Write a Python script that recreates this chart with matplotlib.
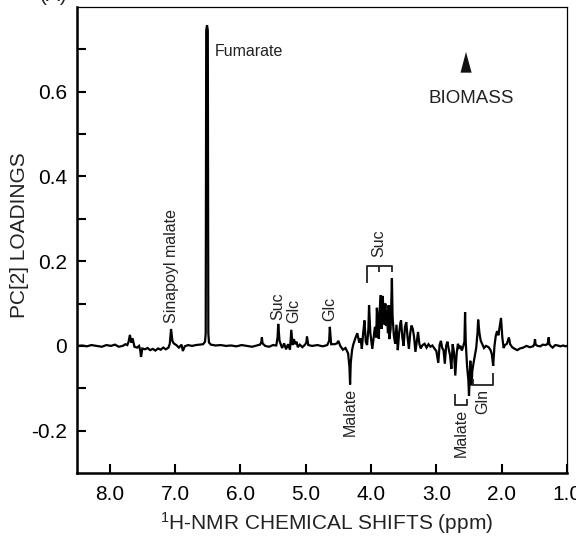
import matplotlib
matplotlib.use("Agg")
import matplotlib.pyplot as plt
from matplotlib.patches import Polygon

plt.rcParams['font.family'] = ['Liberation Sans', 'DejaVu Sans']
plt.rcParams['mathtext.default'] = 'regular'

# ---- data: spectrum trace (ppm, PC[2] loading) ----
ppm = [8.50, 8.42, 8.35, 8.28, 8.20, 8.12, 8.05, 7.98, 7.92, 7.86, 7.80, 7.76, 7.73,
       7.71, 7.69, 7.67, 7.65, 7.62, 7.58, 7.55, 7.53, 7.52, 7.50, 7.46, 7.42, 7.38,
       7.34, 7.30, 7.26, 7.22, 7.18, 7.14, 7.10, 7.08, 7.06, 7.04, 7.02, 6.98, 6.94,
       6.90, 6.88, 6.85, 6.80, 6.74, 6.68, 6.62, 6.57, 6.54, 6.53, 6.522, 6.51, 6.498,
       6.49, 6.48, 6.45, 6.38, 6.30, 6.22, 6.14, 6.06, 5.98, 5.90, 5.82, 5.75, 5.70,
       5.68, 5.67, 5.66, 5.62, 5.56, 5.50, 5.45, 5.43, 5.42, 5.40, 5.38, 5.36, 5.33,
       5.30, 5.27, 5.24, 5.22, 5.20, 5.18, 5.16, 5.14, 5.12, 5.09, 5.05, 5.01, 4.99,
       4.98, 4.96, 4.90, 4.82, 4.74, 4.67, 4.64, 4.63, 4.61, 4.56, 4.52, 4.50, 4.47,
       4.43, 4.39, 4.35, 4.33, 4.32, 4.31, 4.29, 4.27, 4.24, 4.21, 4.18, 4.16, 4.14,
       4.12, 4.10, 4.08, 4.06, 4.04, 4.03, 4.01, 3.98, 3.96, 3.94, 3.92, 3.91, 3.89,
       3.88, 3.87, 3.85, 3.84, 3.83, 3.82, 3.80, 3.78, 3.77, 3.76, 3.74, 3.73, 3.72,
       3.70, 3.68, 3.67, 3.65, 3.63, 3.61, 3.59, 3.57, 3.55, 3.54, 3.52, 3.50, 3.48,
       3.46, 3.44, 3.42, 3.40, 3.38, 3.36, 3.34, 3.32, 3.30, 3.28, 3.26, 3.24, 3.21,
       3.18, 3.15, 3.12, 3.09, 3.06, 3.03, 3.00, 2.97, 2.95, 2.93, 2.91, 2.89, 2.87,
       2.85, 2.83, 2.81, 2.79, 2.77, 2.75, 2.73, 2.71, 2.69, 2.67, 2.65, 2.63, 2.61,
       2.59, 2.57, 2.56, 2.55, 2.53, 2.51, 2.50, 2.48, 2.47, 2.46, 2.45, 2.43, 2.41,
       2.39, 2.37, 2.36, 2.34, 2.32, 2.30, 2.27, 2.24, 2.20, 2.17, 2.15, 2.13, 2.11,
       2.09, 2.07, 2.05, 2.03, 2.01, 1.99, 1.97, 1.95, 1.92, 1.89, 1.87, 1.84, 1.80,
       1.76, 1.72, 1.67, 1.62, 1.57, 1.52, 1.50, 1.49, 1.48, 1.45, 1.41, 1.37, 1.33,
       1.30, 1.29, 1.28, 1.27, 1.25, 1.22, 1.18, 1.14, 1.10, 1.06, 1.02, 1.00]
loading = [0.000, 0.001, -0.001, 0.002, 0.000, -0.002, 0.002, 0.000, 0.003, -0.002, 0.000, 0.004, 0.002,
           0.010, 0.026, 0.008, 0.018, -0.002, -0.004, 0.000, -0.012, -0.026, -0.006, -0.008, -0.005, -0.010,
           -0.007, -0.011, -0.006, -0.009, -0.004, -0.008, -0.004, 0.005, 0.040, 0.012, 0.006, 0.002, -0.004,
           0.003, -0.012, -0.001, 0.002, 0.000, 0.002, 0.003, 0.004, 0.010, 0.030, 0.745, 0.757, 0.745,
           0.030, 0.008, 0.003, 0.001, 0.002, 0.000, 0.001, -0.001, 0.002, 0.000, -0.002, 0.001, 0.003,
           0.008, 0.020, 0.006, 0.000, -0.002, 0.002, 0.001, 0.020, 0.052, 0.012, 0.003, -0.005, 0.006,
           -0.008, 0.004, -0.009, 0.038, 0.002, 0.016, 0.004, 0.010, -0.003, 0.003, -0.003, 0.003, 0.008,
           0.022, 0.002, 0.000, 0.002, -0.001, 0.002, 0.012, 0.045, 0.004, 0.004, 0.006, 0.012, 0.000,
           -0.009, -0.005, -0.018, -0.050, -0.091, -0.040, -0.010, 0.004, 0.018, 0.030, 0.008, 0.018, -0.007,
           0.030, 0.060, 0.010, 0.002, 0.040, 0.096, 0.030, -0.007, 0.020, 0.045, 0.020, 0.090, 0.030,
           0.017, 0.080, 0.120, 0.040, 0.070, 0.118, 0.050, 0.100, 0.047, 0.083, 0.030, 0.096, 0.016,
           0.040, 0.160, 0.070, 0.024, 0.005, 0.050, -0.010, 0.030, 0.055, 0.060, 0.020, 0.000, 0.045,
           0.056, 0.020, -0.007, 0.030, 0.048, 0.040, 0.020, -0.014, 0.010, 0.033, 0.005, -0.006, 0.002,
           0.005, -0.004, 0.004, -0.002, 0.001, -0.006, -0.012, -0.040, 0.002, 0.012, -0.005, -0.010, -0.042,
           0.000, 0.010, -0.008, -0.022, -0.054, 0.004, -0.015, -0.070, -0.020, 0.005, -0.004, 0.000, -0.011,
           -0.002, 0.010, 0.080, 0.010, -0.047, -0.080, -0.118, -0.035, -0.060, -0.093, -0.060, -0.040, -0.023,
           -0.005, 0.030, 0.062, 0.030, 0.012, 0.005, -0.005, 0.000, -0.003, -0.010, -0.020, -0.047, 0.000,
           0.024, 0.035, 0.025, 0.045, 0.066, 0.020, -0.005, 0.002, 0.005, 0.020, 0.004, -0.003, -0.007,
           -0.010, -0.006, -0.004, 0.000, -0.003, -0.001, 0.004, 0.016, 0.003, 0.000, -0.001, 0.003, 0.002,
           0.004, 0.010, 0.020, 0.004, 0.000, -0.004, 0.002, 0.001, -0.001, 0.001, -0.001, 0.000]

xticks = [8.0, 7.0, 6.0, 5.0, 4.0, 3.0, 2.0, 1.0]
xticklabels = ["8.0", "7.0", "6.0", "5.0", "4.0", "3.0", "2.0", "1.0"]
yticks = [-0.2, 0.0, 0.2, 0.4, 0.6]
yticklabels = ["-0.2", "0", "0.2", "0.4", "0.6"]
yminor = [-0.1, 0.1, 0.3, 0.5, 0.7]

fig = plt.figure(figsize=(5.76, 5.43), dpi=100)
ax = fig.add_axes([77/576, 1 - 473/543, 490/576, 466/543])

ax.plot(ppm, loading, color='black', lw=1.6, solid_joinstyle='miter')

ax.set_xlim(8.5, 1.0)
ax.set_ylim(-0.3, 0.8)
ax.set_xticks(xticks)
ax.set_xticklabels(xticklabels)
ax.set_yticks(yticks)
ax.set_yticklabels(yticklabels)
ax.set_yticks(yminor, minor=True)
ax.tick_params(axis='both', which='both', direction='in', length=6.5, width=1.5,
               labelsize=15, pad=7, top=False, right=False)
ax.tick_params(axis='x', pad=9)

for side in ['left', 'bottom']:
    ax.spines[side].set_linewidth(1.8)
for side in ['top', 'right']:
    ax.spines[side].set_linewidth(0.9)

tc = '#222222'
ax.set_xlabel(r'$^{1}$H-NMR CHEMICAL SHIFTS (ppm)', fontsize=15, color=tc)
ax.set_ylabel('PC[2] LOADINGS', fontsize=15, color=tc)
ax.xaxis.set_label_coords(0.51, (473 - 510) / 466)
ax.yaxis.set_label_coords((29 - 77) / 490, 0.51)

fs = 11.5
ax.text(6.39, 0.694, 'Fumarate', fontsize=fs, color=tc, ha='left', va='center')
ax.text(7.06, 0.054, 'Sinapoyl malate', fontsize=fs, color=tc, rotation=90, ha='center', va='bottom')
ax.text(5.42, 0.061, 'Suc', fontsize=fs, color=tc, rotation=90, ha='center', va='bottom')
ax.text(5.18, 0.054, 'Glc', fontsize=fs, color=tc, rotation=90, ha='center', va='bottom')
ax.text(4.63, 0.059, 'Glc', fontsize=fs, color=tc, rotation=90, ha='center', va='bottom')
ax.text(3.88, 0.209, 'Suc', fontsize=fs, color=tc, rotation=90, ha='center', va='bottom')
ax.text(4.32, -0.099, 'Malate', fontsize=fs, color=tc, rotation=90, ha='center', va='top')
ax.text(2.62, -0.148, 'Malate', fontsize=fs, color=tc, rotation=90, ha='center', va='top')
ax.text(2.29, -0.101, 'Gln', fontsize=fs, color=tc, rotation=90, ha='center', va='top')

# brackets
bk = dict(color='#222222', lw=1.3, solid_capstyle='butt')
ax.plot([4.06, 4.06, 3.68, 3.68], [0.148, 0.188, 0.188, 0.174], **bk)
ax.plot([3.87, 3.87], [0.188, 0.174], **bk)
ax.plot([2.71, 2.71, 2.53, 2.53], [-0.113, -0.139, -0.139, -0.125], **bk)
ax.plot([2.44, 2.44, 2.13, 2.13], [-0.078, -0.092, -0.092, -0.064], **bk)

# BIOMASS arrow
ax.add_patch(Polygon([(2.63, 0.645), (2.46, 0.645), (2.546, 0.694)], closed=True,
                     facecolor='#111111', edgecolor='none'))
ax.text(2.47, 0.584, 'BIOMASS', fontsize=13.5, color=tc, ha='center', va='center')

fig.text(40/576, 1 - 5/543, '(A)', fontsize=15, color=tc, ha='left', va='bottom')

fig.savefig('out.png', dpi=100)
